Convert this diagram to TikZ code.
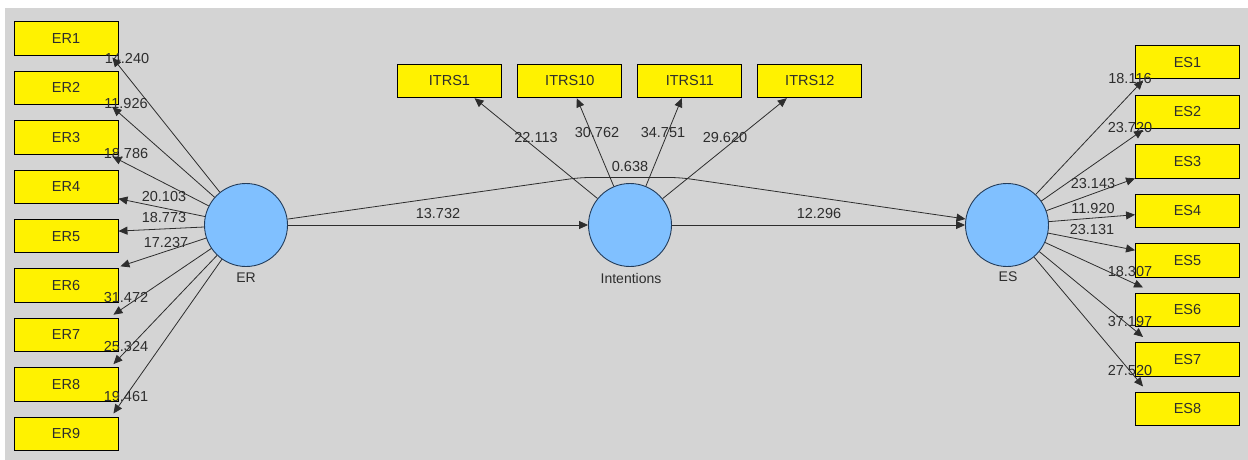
\documentclass[tikz,border=0pt]{standalone}
\usepackage{color}
\usepackage{fontspec}
\setmainfont{Liberation Sans}
\usepackage{tikz}
\usetikzlibrary{arrows,arrows.meta}
\definecolor{plsgrey}{RGB}{212,212,212}
\definecolor{plsblue}{RGB}{128,192,255}
\definecolor{plsedge}{RGB}{35,60,90}
\definecolor{plsink}{RGB}{45,45,45}

\begin{document}
\begin{tikzpicture}[x=1pt,y=-1pt,
       indicator/.style={draw=black,line width=0.9pt,fill=yellow,minimum width=104pt,
         minimum height=33.5pt,inner sep=0pt,font=\fontsize{14.5}{16}\selectfont,text=plsink},
       latent/.style={circle,draw=plsedge,line width=0.9pt,fill=plsblue,minimum size=83pt,inner sep=0pt},
       caption/.style={font=\fontsize{14}{16}\selectfont,text=plsink,inner sep=0pt},
       weight/.style={font=\fontsize{14.5}{16}\selectfont,text=plsink,inner sep=0pt},
       load/.style={draw=plsink,line width=0.8pt,-{Triangle[length=9pt,width=8pt]}}]
       \useasboundingbox (0,0) rectangle (1248,460);
       \fill[plsgrey] (5,8) rectangle (1248,460);
       % latent variables
       \node[latent] (ER)  at (246,225) {};
       \node[latent] (INT) at (630,225) {};
       \node[latent] (ES)  at (1007,225) {};
       \node[caption] (ERname)  at (246,278) {ER};
       \node[caption] (INTname) at (631,278) {Intentions};
       \node[caption] (ESname)  at (1008,277) {ES};
       % indicators of ER
       \node[indicator] (ER1) at (66,38.5)  {ER1};
       \node[indicator] (ER2) at (66,87.9)  {ER2};
       \node[indicator] (ER3) at (66,137.3) {ER3};
       \node[indicator] (ER4) at (66,186.7) {ER4};
       \node[indicator] (ER5) at (66,236.1) {ER5};
       \node[indicator] (ER6) at (66,285.5) {ER6};
       \node[indicator] (ER7) at (66,334.9) {ER7};
       \node[indicator] (ER8) at (66,384.3) {ER8};
       \node[indicator] (ER9) at (66,433.7) {ER9};
       % indicators of Intentions
       \node[indicator] (ITRS1)  at (449.5,81) {ITRS1};
       \node[indicator] (ITRS10) at (569.8,81) {ITRS10};
       \node[indicator] (ITRS11) at (689.8,81) {ITRS11};
       \node[indicator] (ITRS12) at (809.8,81) {ITRS12};
       % indicators of ES
       \node[indicator] (ES1) at (1187.5,62.2)  {ES1};
       \node[indicator] (ES2) at (1187.5,111.7) {ES2};
       \node[indicator] (ES3) at (1187.5,161.2) {ES3};
       \node[indicator] (ES4) at (1187.5,210.7) {ES4};
       \node[indicator] (ES5) at (1187.5,260.2) {ES5};
       \node[indicator] (ES6) at (1187.5,309.7) {ES6};
       \node[indicator] (ES7) at (1187.5,359.2) {ES7};
       \node[indicator] (ES8) at (1187.5,408.7) {ES8};
       % weights
       \node[weight] (wER1) at (127,59)  {14.240};
       \node[weight] (wER2) at (126,104) {11.926};
       \node[weight] (wER3) at (126,154) {18.786};
       \node[weight] (wER4) at (164,197) {20.103};
       \node[weight] (wER5) at (164,218) {18.773};
       \node[weight] (wER6) at (166,243) {17.237};
       \node[weight] (wER7) at (126,298) {31.472};
       \node[weight] (wER8) at (126,347) {25.324};
       \node[weight] (wER9) at (126,397) {19.461};
       \node[weight] (wIT1)  at (536,138) {22.113};
       \node[weight] (wIT10) at (597,133) {30.762};
       \node[weight] (wIT11) at (663,133) {34.751};
       \node[weight] (wIT12) at (725,138) {29.620};
       \node[weight] (wES1) at (1130,79)  {18.116};
       \node[weight] (wES2) at (1130,128) {23.720};
       \node[weight] (wES3) at (1093,184) {23.143};
       \node[weight] (wES4) at (1093,209) {11.920};
       \node[weight] (wES5) at (1092,230) {23.131};
       \node[weight] (wES6) at (1130,272) {18.307};
       \node[weight] (wES7) at (1130,322) {37.197};
       \node[weight] (wES8) at (1130,371) {27.520};
       \node[weight] (wERES)  at (630,167) {0.638};
       \node[weight] (wERINT) at (438,214) {13.732};
       \node[weight] (wINTES) at (819,214) {12.296};
       % paths
       \coordinate (bendA) at (580,177.5);
       \coordinate (bendB) at (680,177.5);
       \draw[load] (ER) -- (INT);
       \draw[load] (INT) -- (ES);
       \draw[load,rounded corners=10pt] (ER) -- (bendA) -- (bendB) -- (ES);
       % outer loadings
       \draw[load] (ER) -- ([xshift=-6pt,yshift=-2pt]ER1.south east);
       \draw[load] (ER) -- ([xshift=-6pt,yshift=-2pt]ER2.south east);
       \draw[load] (ER) -- ([xshift=-6pt,yshift=-2pt]ER3.south east);
       \draw[load] (ER) -- ([yshift=-12pt]ER4.east);
       \draw[load] (ER) -- ([yshift=5pt]ER5.east);
       \draw[load] (ER) -- ([xshift=2pt,yshift=2pt]ER6.north east);
       \draw[load] (ER) -- ([xshift=-5pt,yshift=3pt]ER7.north east);
       \draw[load] (ER) -- ([xshift=-5pt,yshift=3pt]ER8.north east);
       \draw[load] (ER) -- ([xshift=-5pt,yshift=3pt]ER9.north east);
       \draw[load] (INT) -- ([xshift=25pt]ITRS1.south);
       \draw[load] (INT) -- ([xshift=7pt]ITRS10.south);
       \draw[load] (INT) -- ([xshift=-8pt]ITRS11.south);
       \draw[load] (INT) -- ([xshift=-23pt]ITRS12.south);
       \draw[load] (ES) -- ([xshift=8pt,yshift=-1pt]ES1.south west);
       \draw[load] (ES) -- ([xshift=8pt,yshift=-1pt]ES2.south west);
       \draw[load] (ES) -- (ES3.south west);
       \draw[load] (ES) -- ([yshift=-4pt]ES4.west);
       \draw[load] (ES) -- ([yshift=10pt]ES5.west);
       \draw[load] (ES) -- ([xshift=8pt,yshift=5pt]ES6.north west);
       \draw[load] (ES) -- ([xshift=8pt,yshift=5pt]ES7.north west);
       \draw[load] (ES) -- ([xshift=8pt,yshift=5pt]ES8.north west);
      \end{tikzpicture}
\end{document}
